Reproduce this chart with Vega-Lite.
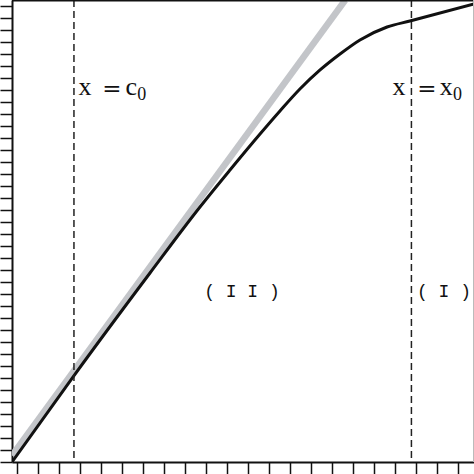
{
  "$schema": "https://vega.github.io/schema/vega-lite/v6.json",
  "autosize": "none",
  "width": 462,
  "height": 462,
  "padding": {"left": 12, "top": 0, "right": 0, "bottom": 12},
  "background": "white",
  "datasets": {
    "gray": [
      {"x": -0.25, "y": 0.55},
      {"x": 15.62, "y": 38.5}
    ],
    "black": [
      {"x": -0.25, "y": 0},
      {"x": 2.66, "y": 7.1},
      {"x": 6.32, "y": 15.75},
      {"x": 8.7, "y": 21.25},
      {"x": 10.13, "y": 24.33},
      {"x": 11.56, "y": 27.33},
      {"x": 12.51, "y": 29.25},
      {"x": 13.46, "y": 31.08},
      {"x": 14.42, "y": 32.67},
      {"x": 15.37, "y": 34.0},
      {"x": 16.32, "y": 35.17},
      {"x": 17.61, "y": 36.25},
      {"x": 18.7, "y": 36.75},
      {"x": 21.75, "y": 38.17}
    ],
    "cuts": [{"x": 2.7}, {"x": 18.77}],
    "letters": [
      {"x": 2.92, "y": 30.58, "t": "x"},
      {"x": 5.15, "y": 30.58, "t": "c"},
      {"x": 17.87, "y": 30.58, "t": "x"},
      {"x": 20.12, "y": 30.58, "t": "x"}
    ],
    "equals": [
      {"x": 4.51, "y": 30.58, "t": "="},
      {"x": 19.51, "y": 30.58, "t": "="}
    ],
    "subs": [
      {"x": 5.72, "y": 30.17, "t": "0"},
      {"x": 20.75, "y": 30.17, "t": "0"}
    ],
    "regions": [
      {"x": 10.7, "y": 13.75, "t": "( I I )"},
      {"x": 20.32, "y": 13.75, "t": "( I )"}
    ]
  },
  "layer": [
    {
      "data": {"name": "gray"},
      "mark": {"type": "line", "color": "#c3c5c9", "strokeWidth": 6.5, "clip": true},
      "encoding": {
        "x": {
          "field": "x", "type": "quantitative",
          "scale": {"domain": [-0.25, 21.75], "nice": false, "zero": false},
          "axis": {
            "values": [0,1,2,3,4,5,6,7,8,9,10,11,12,13,14,15,16,17,18,19,20,21],
            "labels": false, "title": null, "grid": false,
            "tickSize": 12, "tickWidth": 1.5, "tickColor": "#111",
            "domainColor": "#111", "domainWidth": 2
          }
        },
        "y": {
          "field": "y", "type": "quantitative",
          "scale": {"domain": [0, 38.5], "nice": false, "zero": false},
          "axis": {
            "values": [0,1,2,3,4,5,6,7,8,9,10,11,12,13,14,15,16,17,18,19,20,21,22,23,24,25,26,27,28,29,30,31,32,33,34,35,36,37,38],
            "labels": false, "title": null, "grid": false,
            "tickSize": 12, "tickWidth": 1.5, "tickColor": "#111",
            "domainColor": "#111", "domainWidth": 2
          }
        }
      }
    },
    {
      "data": {"name": "black"},
      "mark": {"type": "line", "color": "#111", "strokeWidth": 3, "interpolate": "monotone", "clip": true},
      "encoding": {
        "x": {"field": "x", "type": "quantitative", "axis": {"values": [0,1,2,3,4,5,6,7,8,9,10,11,12,13,14,15,16,17,18,19,20,21], "labels": false, "title": null, "grid": false}},
        "y": {"field": "y", "type": "quantitative", "axis": {"values": [0,1,2,3,4,5,6,7,8,9,10,11,12,13,14,15,16,17,18,19,20,21,22,23,24,25,26,27,28,29,30,31,32,33,34,35,36,37,38], "labels": false, "title": null, "grid": false}}
      }
    },
    {
      "data": {"name": "cuts"},
      "mark": {"type": "rule", "color": "#222", "strokeWidth": 1.5, "strokeDash": [7, 4]},
      "encoding": {
        "x": {"field": "x", "type": "quantitative", "axis": {"values": [0,1,2,3,4,5,6,7,8,9,10,11,12,13,14,15,16,17,18,19,20,21], "labels": false, "title": null, "grid": false}}
      }
    },
    {
      "data": {"values": [{}]},
      "mark": {"type": "rule", "color": "#111", "strokeWidth": 3},
      "encoding": {"y": {"datum": 38.5, "axis": {"values": [0,1,2,3,4,5,6,7,8,9,10,11,12,13,14,15,16,17,18,19,20,21,22,23,24,25,26,27,28,29,30,31,32,33,34,35,36,37,38], "labels": false, "title": null, "grid": false}}}
    },
    {
      "data": {"values": [{}]},
      "mark": {"type": "rule", "color": "#bbb", "strokeWidth": 2},
      "encoding": {"x": {"datum": 21.75, "axis": {"values": [0,1,2,3,4,5,6,7,8,9,10,11,12,13,14,15,16,17,18,19,20,21], "labels": false, "title": null, "grid": false}}}
    },
    {
      "data": {"name": "letters"},
      "mark": {"type": "text", "font": "Liberation Serif", "fontSize": 26, "align": "left", "baseline": "alphabetic", "color": "#111"},
      "encoding": {
        "x": {"field": "x", "type": "quantitative", "axis": {"values": [0,1,2,3,4,5,6,7,8,9,10,11,12,13,14,15,16,17,18,19,20,21], "labels": false, "title": null, "grid": false}},
        "y": {"field": "y", "type": "quantitative", "axis": {"values": [0,1,2,3,4,5,6,7,8,9,10,11,12,13,14,15,16,17,18,19,20,21,22,23,24,25,26,27,28,29,30,31,32,33,34,35,36,37,38], "labels": false, "title": null, "grid": false}},
        "text": {"field": "t"}
      }
    },
    {
      "data": {"name": "equals"},
      "mark": {"type": "text", "font": "DejaVu Serif", "fontSize": 23, "align": "center", "baseline": "alphabetic", "dy": 1, "color": "#111"},
      "encoding": {
        "x": {"field": "x", "type": "quantitative", "axis": {"values": [0,1,2,3,4,5,6,7,8,9,10,11,12,13,14,15,16,17,18,19,20,21], "labels": false, "title": null, "grid": false}},
        "y": {"field": "y", "type": "quantitative", "axis": {"values": [0,1,2,3,4,5,6,7,8,9,10,11,12,13,14,15,16,17,18,19,20,21,22,23,24,25,26,27,28,29,30,31,32,33,34,35,36,37,38], "labels": false, "title": null, "grid": false}},
        "text": {"field": "t"}
      }
    },
    {
      "data": {"name": "subs"},
      "mark": {"type": "text", "font": "Liberation Serif", "fontSize": 18, "align": "left", "baseline": "alphabetic", "color": "#111"},
      "encoding": {
        "x": {"field": "x", "type": "quantitative", "axis": {"values": [0,1,2,3,4,5,6,7,8,9,10,11,12,13,14,15,16,17,18,19,20,21], "labels": false, "title": null, "grid": false}},
        "y": {"field": "y", "type": "quantitative", "axis": {"values": [0,1,2,3,4,5,6,7,8,9,10,11,12,13,14,15,16,17,18,19,20,21,22,23,24,25,26,27,28,29,30,31,32,33,34,35,36,37,38], "labels": false, "title": null, "grid": false}},
        "text": {"field": "t"}
      }
    },
    {
      "data": {"name": "regions"},
      "mark": {"type": "text", "font": "Liberation Mono", "fontSize": 18, "align": "center", "baseline": "alphabetic", "color": "#111"},
      "encoding": {
        "x": {"field": "x", "type": "quantitative", "axis": {"values": [0,1,2,3,4,5,6,7,8,9,10,11,12,13,14,15,16,17,18,19,20,21], "labels": false, "title": null, "grid": false}},
        "y": {"field": "y", "type": "quantitative", "axis": {"values": [0,1,2,3,4,5,6,7,8,9,10,11,12,13,14,15,16,17,18,19,20,21,22,23,24,25,26,27,28,29,30,31,32,33,34,35,36,37,38], "labels": false, "title": null, "grid": false}},
        "text": {"field": "t"}
      }
    }
  ],
  "config": {
    "view": {"stroke": null}
  }
}
